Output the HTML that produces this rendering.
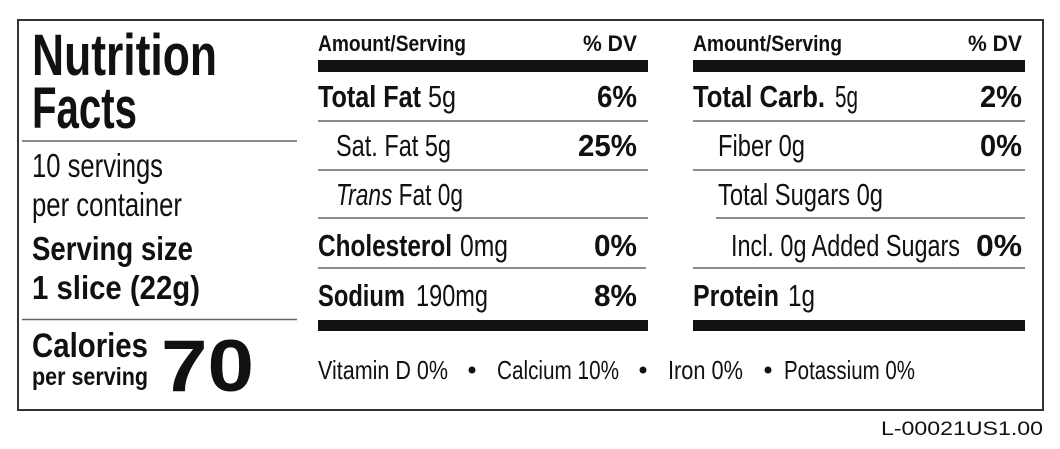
<!DOCTYPE html>
<html><head><meta charset="utf-8"><style>
html,body{margin:0;padding:0;background:#fff;width:1060px;height:449px;overflow:hidden}
svg{display:block}
text{font-family:"Liberation Sans",sans-serif;fill:#111}
.b{font-weight:bold}
</style></head><body>
<svg width="1060" height="449" viewBox="0 0 1060 449" xmlns="http://www.w3.org/2000/svg">
<rect x="18" y="20" width="1025" height="390" fill="none" stroke="#333" stroke-width="2"/>
<!-- left -->
<text class="b" x="32" y="75" font-size="58" textLength="185" lengthAdjust="spacingAndGlyphs">Nutrition</text>
<text class="b" x="32" y="128" font-size="58" textLength="105" lengthAdjust="spacingAndGlyphs">Facts</text>
<line x1="22" y1="141" x2="297" y2="141" stroke="#666" stroke-width="1.5"/>
<text x="32" y="177" font-size="33" textLength="131" lengthAdjust="spacingAndGlyphs">10 servings</text>
<text x="32" y="216" font-size="33" textLength="150" lengthAdjust="spacingAndGlyphs">per container</text>
<text class="b" x="32" y="260" font-size="33" textLength="161" lengthAdjust="spacingAndGlyphs">Serving size</text>
<text class="b" x="32" y="299" font-size="33" textLength="168" lengthAdjust="spacingAndGlyphs">1 slice (22g)</text>
<line x1="22" y1="319.5" x2="297" y2="319.5" stroke="#666" stroke-width="1.5"/>
<text class="b" x="32" y="357" font-size="34" textLength="116" lengthAdjust="spacingAndGlyphs">Calories</text>
<text class="b" x="32" y="385" font-size="25" textLength="116" lengthAdjust="spacingAndGlyphs">per serving</text>
<text class="b" x="161" y="391" font-size="73" textLength="93" lengthAdjust="spacingAndGlyphs">70</text>
<!-- middle -->
<text class="b" x="318" y="51" font-size="22" textLength="148" lengthAdjust="spacingAndGlyphs">Amount/Serving</text>
<text class="b" x="583" y="51" font-size="22" textLength="54" lengthAdjust="spacingAndGlyphs">% DV</text>
<rect x="318" y="60" width="330" height="12" fill="#111"/>
<text class="b" x="318" y="107" font-size="31" textLength="103" lengthAdjust="spacingAndGlyphs">Total Fat</text>
<text x="428" y="107" font-size="31" textLength="28" lengthAdjust="spacingAndGlyphs">5g</text>
<text class="b" x="597" y="107" font-size="31" textLength="40" lengthAdjust="spacingAndGlyphs">6%</text>
<line x1="318" y1="121" x2="648" y2="121" stroke="#666" stroke-width="1.5"/>
<text x="336" y="156" font-size="31" textLength="115" lengthAdjust="spacingAndGlyphs">Sat. Fat 5g</text>
<text class="b" x="578" y="156" font-size="31" textLength="59" lengthAdjust="spacingAndGlyphs">25%</text>
<line x1="318" y1="170" x2="648" y2="170" stroke="#666" stroke-width="1.5"/>
<text x="336" y="205" font-size="31" textLength="127" lengthAdjust="spacingAndGlyphs"><tspan font-style="italic">Trans</tspan> Fat 0g</text>
<line x1="318" y1="218" x2="648" y2="218" stroke="#666" stroke-width="1.5"/>
<text class="b" x="318" y="256" font-size="31" textLength="134" lengthAdjust="spacingAndGlyphs">Cholesterol</text>
<text x="460" y="256" font-size="31" textLength="48" lengthAdjust="spacingAndGlyphs">0mg</text>
<text class="b" x="594" y="256" font-size="31" textLength="43" lengthAdjust="spacingAndGlyphs">0%</text>
<line x1="318" y1="268" x2="646" y2="268" stroke="#666" stroke-width="1.5"/>
<text class="b" x="318" y="306" font-size="31" textLength="87" lengthAdjust="spacingAndGlyphs">Sodium</text>
<text x="416" y="306" font-size="31" textLength="72" lengthAdjust="spacingAndGlyphs">190mg</text>
<text class="b" x="594" y="306" font-size="31" textLength="43" lengthAdjust="spacingAndGlyphs">8%</text>
<rect x="318" y="320" width="330" height="11" fill="#111"/>
<text x="318" y="379" font-size="26" textLength="130" lengthAdjust="spacingAndGlyphs">Vitamin D 0%</text>
<circle cx="472" cy="370" r="3.5" fill="#111"/>
<text x="497" y="379" font-size="26" textLength="122" lengthAdjust="spacingAndGlyphs">Calcium 10%</text>
<circle cx="643" cy="370" r="3.5" fill="#111"/>
<text x="668" y="379" font-size="26" textLength="75" lengthAdjust="spacingAndGlyphs">Iron 0%</text>
<circle cx="768" cy="370" r="3.5" fill="#111"/>
<text x="784" y="379" font-size="26" textLength="131" lengthAdjust="spacingAndGlyphs">Potassium 0%</text>
<!-- right -->
<text class="b" x="693" y="51" font-size="22" textLength="149" lengthAdjust="spacingAndGlyphs">Amount/Serving</text>
<text class="b" x="968" y="51" font-size="22" textLength="54" lengthAdjust="spacingAndGlyphs">% DV</text>
<rect x="693" y="60" width="332" height="12" fill="#111"/>
<text class="b" x="693" y="107" font-size="31" textLength="132" lengthAdjust="spacingAndGlyphs">Total Carb.</text>
<text x="835" y="107" font-size="31" textLength="23" lengthAdjust="spacingAndGlyphs">5g</text>
<text class="b" x="980" y="107" font-size="31" textLength="42" lengthAdjust="spacingAndGlyphs">2%</text>
<line x1="693" y1="121" x2="1025" y2="121" stroke="#666" stroke-width="1.5"/>
<text x="718" y="156" font-size="31" textLength="87" lengthAdjust="spacingAndGlyphs">Fiber 0g</text>
<text class="b" x="980" y="156" font-size="31" textLength="42" lengthAdjust="spacingAndGlyphs">0%</text>
<line x1="693" y1="170" x2="1025" y2="170" stroke="#666" stroke-width="1.5"/>
<text x="718" y="205" font-size="31" textLength="165" lengthAdjust="spacingAndGlyphs">Total Sugars 0g</text>
<line x1="716" y1="218" x2="1025" y2="218" stroke="#666" stroke-width="1.5"/>
<text x="731" y="256" font-size="31" textLength="229" lengthAdjust="spacingAndGlyphs">Incl. 0g Added Sugars</text>
<text class="b" x="976" y="256" font-size="31" textLength="46" lengthAdjust="spacingAndGlyphs">0%</text>
<line x1="693" y1="268" x2="1025" y2="268" stroke="#666" stroke-width="1.5"/>
<text class="b" x="693" y="306" font-size="31" textLength="86" lengthAdjust="spacingAndGlyphs">Protein</text>
<text x="788" y="306" font-size="31" textLength="27" lengthAdjust="spacingAndGlyphs">1g</text>
<rect x="693" y="320" width="332" height="11" fill="#111"/>
<text x="1043" y="435" font-size="19" text-anchor="end" textLength="162" lengthAdjust="spacingAndGlyphs">L-00021US1.00</text>
</svg>
</body></html>
